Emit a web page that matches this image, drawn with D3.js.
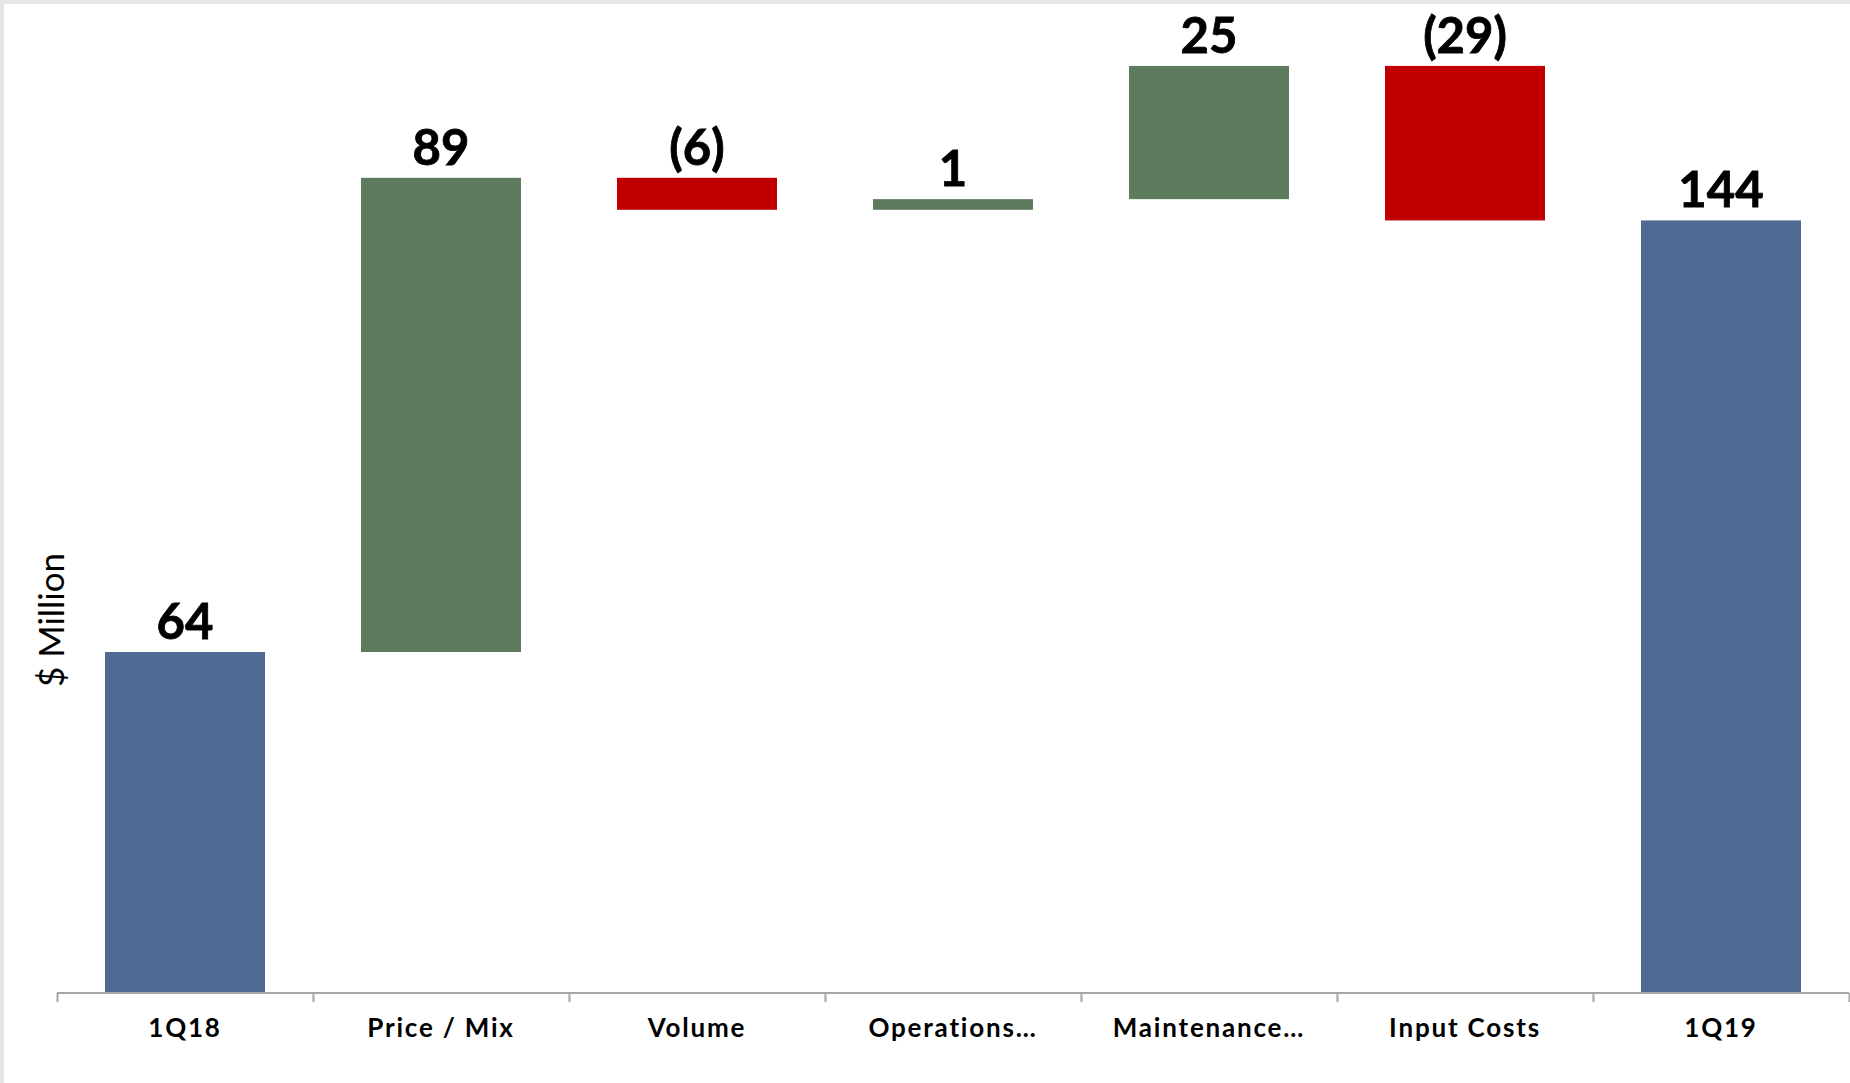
<!DOCTYPE html>
<html>
<head>
  <meta charset="utf-8">
  <title>1Q18 to 1Q19 bridge</title>
  <script src="https://d3js.org/d3.v7.min.js"></script>
  <style type="text/css">
    html, body {
      margin: 0;
      padding: 0;
      background: #e6e6e6;
    }

    svg {
      display: block;
    }

    .bar-label {
      font-family: Lato, "Open Sans", sans-serif;
      font-weight: 700;
      font-size: 49px;
      fill: #000;
      stroke: #000;
      stroke-width: 0.8px;
    }

    .cat-axis text {
      font-family: Lato, "Open Sans", sans-serif;
      font-weight: 700;
      font-size: 26px;
      letter-spacing: 1.8px;
      fill: #000;
    }

    .cat-axis path,
    .tick-axis path {
      display: none;
    }

    .tick-axis line,
    .base-line {
      stroke: #a6a6a6;
      stroke-width: 2px;
    }

    .y-title {
      font-family: Lato, "Open Sans", sans-serif;
      font-size: 35px;
      fill: #000;
    }
  </style>
</head>

<body>
  <svg width="1850" height="1083"></svg>
  <script type="text/javascript">
    // categories along the bottom
    var categories = ["1Q18", "Price / Mix", "Volume", "Operations\u2026", "Maintenance\u2026", "Input Costs", "1Q19"];

    // bar values ($ million); first and last are totals
    var values = [64, 89, -6, 2, 25, -29, 145];
    var isTotal = [true, false, false, false, false, false, true];

    // labels printed above the bars
    var valueLabels = ["64", "89", "(6)", "1", "25", "(29)", "144"];

    var colors = { total: "#4f6a93", up: "#5e7b5e", down: "#c00000" };

    var svg = d3.select("svg");

    // white chart area, leaving the thin grey frame at top and left
    svg.append("rect")
      .attr("x", 4)
      .attr("y", 4)
      .attr("width", 1846)
      .attr("height", 1079)
      .attr("fill", "#fff");

    var left = 57,
      right = 1849,
      baseY = 993;

    var x = d3.scaleBand()
      .domain(categories)
      .range([left, right])
      .paddingInner(0.375)
      .paddingOuter(0.1875);

    var y = d3.scaleLinear()
      .domain([0, 180])
      .range([baseY, baseY - 180 * 5.328]);

    // running total -> floating segments
    var run = 0;
    var bars = values.map(function(v, i) {
      var y0, y1, kind;
      if (isTotal[i]) {
        y0 = 0;
        y1 = v;
        run = v;
        kind = "total";
      } else {
        y0 = run;
        y1 = run + v;
        run = y1;
        kind = v >= 0 ? "up" : "down";
      }
      return { cat: categories[i], y0: y0, y1: y1, kind: kind, label: valueLabels[i] };
    });

    var g = svg.append("g");

    g.selectAll(".bar")
      .data(bars)
      .enter().append("rect")
      .attr("class", "bar")
      .attr("x", function(d) { return x(d.cat); })
      .attr("width", x.bandwidth())
      .attr("y", function(d) { return y(Math.max(d.y0, d.y1)); })
      .attr("height", function(d) { return Math.abs(y(d.y0) - y(d.y1)); })
      .attr("fill", function(d) { return colors[d.kind]; });

    g.selectAll(".bar-label")
      .data(bars)
      .enter().append("text")
      .attr("class", "bar-label")
      .attr("text-anchor", "middle")
      .attr("x", function(d) { return x(d.cat) + x.bandwidth() / 2; })
      .attr("y", function(d) { return y(Math.max(d.y0, d.y1)) - 13; })
      .text(function(d) { return d.label; });

    // baseline with tick marks on the category boundaries
    svg.append("line")
      .attr("class", "base-line")
      .attr("x1", left)
      .attr("x2", right)
      .attr("y1", baseY)
      .attr("y2", baseY);

    var bounds = d3.scaleLinear()
      .domain([0, categories.length])
      .range([left, right]);

    svg.append("g")
      .attr("class", "tick-axis")
      .attr("transform", "translate(0," + baseY + ")")
      .call(d3.axisBottom(bounds)
        .tickValues(d3.range(categories.length + 1))
        .tickFormat("")
        .tickSize(9));

    svg.append("g")
      .attr("class", "cat-axis")
      .attr("transform", "translate(0," + baseY + ")")
      .call(d3.axisBottom(x).tickSize(0).tickPadding(26))
      .selectAll("text")
      .attr("dy", "0.71em");

    svg.append("text")
      .attr("class", "y-title")
      .attr("text-anchor", "middle")
      .attr("transform", "translate(64,620) rotate(-90)")
      .text("$ Million");
  </script>
</body>
</html>
